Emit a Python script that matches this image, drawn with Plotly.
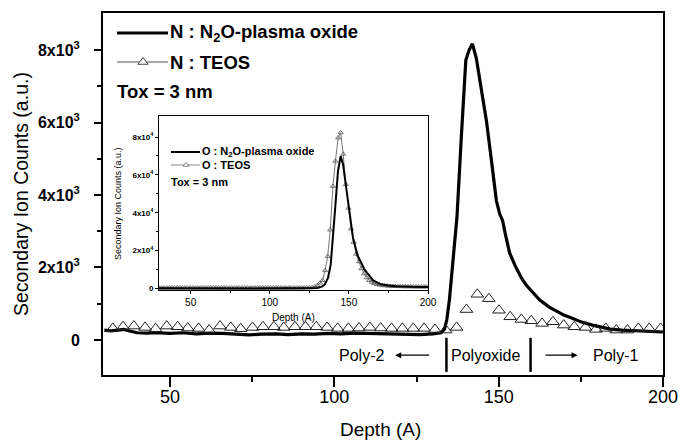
import plotly.graph_objects as go

# ---------------- data ----------------
main_n2o_depth = [30, 32, 34, 36, 38, 40, 43, 46, 50, 54, 58, 62, 66, 70, 74, 78, 82, 86, 90, 94,
                  98, 102, 106, 110, 114, 118, 122, 126, 130, 132.5, 133.5, 134.2, 135.0, 135.8,
                  136.5, 137.3, 138.6, 140.0, 141.0, 142.0, 143.2, 144.8, 146.3, 147.8, 149.3,
                  150.3, 151.2, 152.2, 153.3, 155.0, 157.0, 158.5, 160.5, 162.5, 165.5, 168.0,
                  170.0, 172.4, 175.0, 178.5, 181.0, 184.0, 187.5, 191.0, 195.0, 200.0]
main_n2o_counts = [270, 250, 270, 290, 240, 200, 190, 200, 180, 200, 170, 190, 180, 150, 140, 160,
                   170, 150, 170, 160, 180, 170, 190, 180, 170, 160, 160, 150, 170, 200, 300, 550,
                   1100, 1920, 2600, 3380, 5550, 7720, 8000, 8170, 7770, 6900, 6030, 4950, 3840,
                   3480, 3290, 2850, 2410, 2050, 1700, 1500, 1300, 1100, 900, 780, 680, 600, 500,
                   410, 360, 300, 270, 250, 230, 220]

main_teos_depth = [32.6, 35.7, 39.0, 42.4, 45.6, 49.0, 52.3, 55.4, 58.7, 61.9, 65.2, 68.5, 71.5,
                   75.1, 78.3, 81.6, 84.6, 88.0, 91.2, 94.5, 97.8, 101.0, 104.3, 107.5, 110.8,
                   114.1, 117.4, 120.7, 124.0, 127.3, 130.6, 133.9, 137.2, 140.2, 143.5, 147.0,
                   150.1, 153.5, 156.9, 159.9, 163.2, 166.5, 169.8, 173.0, 176.4, 179.6, 182.6,
                   185.8, 189.2, 192.5, 195.8, 199.3]
main_teos_counts = [320, 365, 384, 347, 311, 384, 365, 330, 320, 274, 384, 347, 311, 347, 365, 365,
                    347, 365, 365, 365, 347, 320, 320, 330, 347, 330, 320, 320, 320, 320, 290, 274,
                    347, 840, 1260, 1140, 820, 640, 567, 530, 457, 503, 411, 365, 347, 292, 320,
                    274, 274, 320, 320, 320]

inset_n2o_depth = [30, 50, 70, 90, 110, 126, 130, 131.6, 133.2, 134.7, 136.8, 138.5, 140.0, 141.5,
                   143.1, 144.8, 146.3, 148.4, 150.5, 152.6, 155.5, 160.0, 165.3, 170.0, 175.0,
                   180.0, 190.0, 200.0]
inset_n2o_counts = [100, 0, 100, 0, 100, 100, 300, 600, 1100, 2000, 5600, 12600, 26700, 44300,
                    62000, 69900, 65500, 52300, 37300, 26700, 17500, 9800, 4300, 2300, 1600, 1200,
                    900, 800]

inset_teos_depth = [30.0, 31.6, 33.3, 34.9, 36.6, 38.2, 39.8, 41.5, 43.1, 44.8, 46.4, 48.0, 49.7,
                    51.3, 53.0, 54.6, 56.2, 57.9, 59.5, 61.2, 62.8, 64.4, 66.1, 67.7, 69.4, 71.0,
                    72.6, 74.3, 75.9, 77.6, 79.2, 80.8, 82.5, 84.1, 85.8, 87.4, 89.0, 90.7, 92.3,
                    94.0, 95.6, 97.2, 98.9, 100.5, 102.2, 103.8, 105.4, 107.1, 108.7, 110.4, 112.0,
                    113.6, 115.3, 116.9, 118.6, 120.2, 121.8, 123.5, 125.1, 126.8, 128.4, 130.0,
                    131.7, 133.3, 135.0, 136.6, 138.2, 139.9, 141.5, 143.2, 144.8, 146.4, 148.1,
                    149.7, 151.4, 153.0, 154.6, 156.3, 157.9, 159.6, 161.2, 162.8, 164.5, 166.1,
                    167.8, 169.4, 171.0, 172.7, 174.3, 176.0, 177.6, 179.2, 180.9, 182.5, 184.2,
                    185.8, 187.4, 189.1, 190.7, 192.4, 194.0, 195.6, 197.3, 198.9]
inset_teos_counts = [400, 300, 350, 300, 400, 350, 300, 350, 400, 300, 350, 300, 400, 350, 300,
                     350, 300, 400, 350, 300, 350, 400, 300, 350, 300, 400, 350, 300, 350, 300,
                     400, 350, 300, 350, 400, 300, 350, 300, 400, 350, 300, 350, 400, 300, 350,
                     300, 400, 350, 300, 350, 400, 300, 350, 300, 400, 350, 300, 400, 450, 500,
                     900, 1600, 2900, 4300, 9500, 17000, 31000, 54000, 67300, 79600, 82300, 71000,
                     55000, 42500, 31500, 24500, 18200, 14200, 10500, 7800, 5700, 4300, 3300, 2600,
                     2200, 1900, 1700, 1500, 1400, 1300, 1200, 1200, 1100, 1100, 1000, 1000, 1000,
                     1000, 900, 900, 900, 900, 900, 900]

main_x_ticks = [50, 100, 150, 200]
main_x_minor = [75, 125, 175]
main_y_ticks = [0, 2000, 4000, 6000, 8000]
main_y_labels = ["0", "2x10<sup>3</sup>", "4x10<sup>3</sup>", "6x10<sup>3</sup>", "8x10<sup>3</sup>"]
main_y_minor = [1000, 3000, 5000, 7000]
inset_y_ticks = [0, 20000, 40000, 60000, 80000]
inset_y_labels = ["0", "2x10<sup>4</sup>", "4x10<sup>4</sup>", "6x10<sup>4</sup>", "8x10<sup>4</sup>"]
inset_y_minor = [10000, 30000, 50000, 70000]

FONT = "Liberation Sans, Arial, Helvetica, sans-serif"

fig = go.Figure()

# main traces
fig.add_trace(go.Scatter(x=main_n2o_depth, y=main_n2o_counts, mode="lines",
                         line=dict(color="black", width=3.2), xaxis="x", yaxis="y"))
fig.add_trace(go.Scatter(x=main_teos_depth, y=main_teos_counts, mode="markers",
                         marker=dict(symbol="triangle-up-open", size=11, color="#222",
                                     line=dict(width=1)), xaxis="x", yaxis="y"))

# inset traces
fig.add_trace(go.Scatter(x=inset_teos_depth, y=inset_teos_counts, mode="lines+markers",
                         line=dict(color="#777", width=1),
                         marker=dict(symbol="triangle-up-open", size=4.5, color="#555",
                                     line=dict(width=0.8)), xaxis="x2", yaxis="y2"))
fig.add_trace(go.Scatter(x=inset_n2o_depth, y=inset_n2o_counts, mode="lines",
                         line=dict(color="black", width=2), xaxis="x2", yaxis="y2"))

# main legend samples on a pixel overlay of the main plot area (x3/y3 = page pixels)
fig.add_trace(go.Scatter(x=[117, 168], y=[33, 33], mode="lines",
                         line=dict(color="black", width=3), xaxis="x3", yaxis="y3"))
fig.add_trace(go.Scatter(x=[117, 168], y=[62, 62], mode="lines",
                         line=dict(color="#555", width=1), xaxis="x3", yaxis="y3"))
fig.add_trace(go.Scatter(x=[143], y=[62], mode="markers",
                         marker=dict(symbol="triangle-up", size=9, color="white",
                                     line=dict(width=1, color="#444")), xaxis="x3", yaxis="y3"))
# inset legend samples on a pixel overlay of the inset (x4/y4 = page pixels)
fig.add_trace(go.Scatter(x=[171, 200], y=[152, 152], mode="lines",
                         line=dict(color="black", width=2), xaxis="x4", yaxis="y4"))
fig.add_trace(go.Scatter(x=[171, 200], y=[165, 165], mode="lines",
                         line=dict(color="#888", width=1), xaxis="x4", yaxis="y4"))
fig.add_trace(go.Scatter(x=[186], y=[165], mode="markers",
                         marker=dict(symbol="triangle-up", size=5, color="white",
                                     line=dict(width=0.8, color="#666")), xaxis="x4", yaxis="y4"))

ann = []
def txt(x, y, t, size, bold=True, xanchor="left", ref="3", angle=0):
    ann.append(dict(x=x, y=y, xref="x" + ref, yref="y" + ref, text=("<b>%s</b>" % t) if bold else t,
                    showarrow=False, xanchor=xanchor, yanchor="middle", textangle=angle,
                    font=dict(family=FONT, size=size, color="black")))

def ptxt(px, py, t, size, angle=0):
    # page-pixel position converted to paper coords of the main plot area
    ann.append(dict(x=(px - 103) / 560, y=(375 - py) / 362, xref="paper", yref="paper", text=t,
                    showarrow=False, xanchor="center", yanchor="middle", textangle=angle,
                    font=dict(family=FONT, size=size, color="black")))

txt(168, 33, "N : N<sub>2</sub>O-plasma oxide", 18.5)
txt(168, 62, "N : TEOS", 18.5)
txt(115, 91, "Tox = 3 nm", 18.5)
txt(200, 152, "O : N<sub>2</sub>O-plasma oxide", 11, ref="4")
txt(200, 165, "O : TEOS", 11, ref="4")
txt(169, 182, "Tox = 3 nm", 11, ref="4")
# axis titles
ptxt(380, 430, "Depth (A)", 19)
ptxt(21, 194, "Secondary Ion Counts (a.u.)", 19.5, angle=-90)
txt(293, 317, "Depth (A)", 10, bold=False, xanchor="center")
txt(118, 204, "Secondary Ion Counts (a.u.)", 9, bold=False, xanchor="center", angle=-90)

# region annotations (data coords)
for x, t in [(108.4, "Poly-2"), (145.9, "Polyoxide"), (185.6, "Poly-1")]:
    ann.append(dict(x=x, y=-420, xref="x", yref="y", text=t, showarrow=False,
                    font=dict(family=FONT, size=16, color="black")))
ann.append(dict(x=118.5, y=-420, ax=129.3, ay=-420, xref="x", yref="y", axref="x", ayref="y",
                text="", showarrow=True, arrowhead=2, arrowsize=1, arrowwidth=1.2, arrowcolor="black"))
ann.append(dict(x=174.0, y=-420, ax=163.8, ay=-420, xref="x", yref="y", axref="x", ayref="y",
                text="", showarrow=True, arrowhead=2, arrowsize=1, arrowwidth=1.2, arrowcolor="black"))

shapes = [
    dict(type="line", xref="x", yref="y", x0=134.1, x1=134.1, y0=-880, y1=60,
         line=dict(color="black", width=2.5)),
    dict(type="line", xref="x", yref="y", x0=159.7, x1=159.7, y0=-880, y1=60,
         line=dict(color="black", width=2.5)),
]

axis_common = dict(showgrid=False, zeroline=False, showline=True, linecolor="black", mirror=True,
                   automargin=False)

fig.update_layout(
    template="none",
    width=681, height=441,
    margin=dict(l=103, r=18, t=13, b=66, autoexpand=False),
    paper_bgcolor="white", plot_bgcolor="white",
    showlegend=False,
    font=dict(family=FONT, color="black"),
    annotations=ann, shapes=shapes,
    xaxis=dict(**axis_common, linewidth=2, range=[29.6, 200],
               tickmode="array", tickvals=main_x_ticks, ticks="outside", ticklen=10, tickwidth=1.5,
               tickcolor="black", tickfont=dict(family=FONT, size=18), ticklabelstandoff=-6,
               minor=dict(tickmode="array", tickvals=main_x_minor, ticks="outside", ticklen=5,
                          tickwidth=1.5, tickcolor="black")),
    yaxis=dict(**axis_common, linewidth=2, range=[-966, 9021],
               tickmode="array", tickvals=main_y_ticks, ticktext=main_y_labels,
               ticks="outside", ticklen=7, tickwidth=1.5, tickcolor="black",
               tickfont=dict(family=FONT, size=16, weight="bold"), ticklabelstandoff=11,
               minor=dict(tickmode="array", tickvals=main_y_minor, ticks="outside", ticklen=4,
                          tickwidth=1.5, tickcolor="black")),
    xaxis2=dict(**axis_common, linewidth=1, domain=[0.1, 0.5804], anchor="y2", range=[30, 200],
                tickmode="array", tickvals=main_x_ticks, ticks="outside", ticklen=3, tickwidth=1,
                tickcolor="black", tickfont=dict(family=FONT, size=10),
                minor=dict(tickmode="array", tickvals=main_x_minor, ticks="outside", ticklen=2,
                           tickwidth=1, tickcolor="black")),
    yaxis2=dict(**axis_common, linewidth=1, domain=[0.2348, 0.7155], anchor="x2",
                range=[-800, 91100],
                tickmode="array", tickvals=inset_y_ticks, ticktext=inset_y_labels,
                ticks="outside", ticklen=3, tickwidth=1, tickcolor="black",
                tickfont=dict(family=FONT, size=8, weight="bold"),
                minor=dict(tickmode="array", tickvals=inset_y_minor, ticks="outside", ticklen=2,
                           tickwidth=1, tickcolor="black")),
    xaxis3=dict(overlaying="x", anchor="y3", range=[103, 663], visible=False, fixedrange=True),
    yaxis3=dict(overlaying="y", anchor="x3", range=[375, 13], visible=False, fixedrange=True),
    xaxis4=dict(overlaying="x2", anchor="y4", domain=[0.1, 0.5804], range=[159, 428],
                visible=False, fixedrange=True),
    yaxis4=dict(overlaying="y2", anchor="x4", domain=[0.2348, 0.7155], range=[290, 116],
                visible=False, fixedrange=True),
)

fig.write_html("out.html")
